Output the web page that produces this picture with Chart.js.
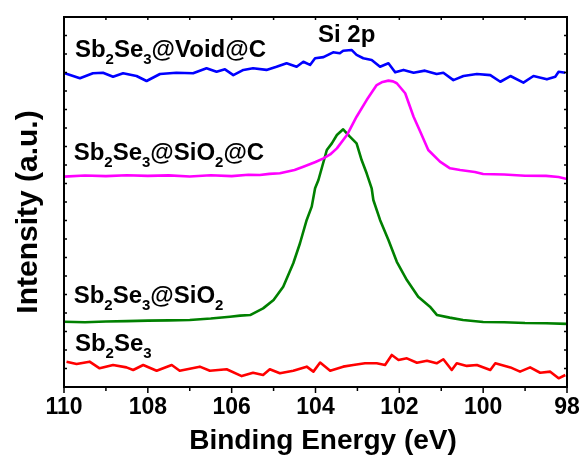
<!DOCTYPE html>
<html><head><meta charset="utf-8">
<script src="https://cdn.jsdelivr.net/npm/chart.js@4"></script>
<style>html,body{margin:0;padding:0;background:#fff}canvas{display:block}</style>
</head><body>
<canvas id="c" width="580" height="460"></canvas>
<script>
const FONT = '"Liberation Sans", Arial, Helvetica, sans-serif';

// ---- data (binding energy in eV, intensity in arbitrary offset units) ----
const voidEnergy = [109.98,109.62,109.31,109.07,108.83,108.59,108.27,108.03,107.71,107.32,106.92,106.60,106.36,106.16,105.96,105.72,105.49,105.17,104.93,104.69,104.45,104.29,104.13,104.01,103.81,103.58,103.42,103.34,103.14,103.02,102.86,102.66,102.46,102.26,102.10,101.90,101.66,101.39,101.11,100.95,100.71,100.47,100.15,99.83,99.59,99.35,99.04,98.80,98.48,98.28,98.20,98.04];
const voidIntensity = [16.96,16.69,16.96,16.99,16.77,16.96,16.81,16.54,16.92,16.99,16.96,17.23,17.04,17.17,16.86,17.14,17.23,17.14,17.31,17.50,17.31,17.58,17.41,17.77,17.83,18.09,18.04,18.18,18.22,17.95,17.77,17.68,17.31,17.50,17.01,17.14,16.99,17.10,16.92,16.99,16.59,16.81,16.92,16.86,16.50,16.81,16.45,16.81,16.63,16.77,17.04,16.99];

const sio2cEnergy = [110,109.5,109,108.5,108,107.5,107,106.5,106,105.6,105.33,105.1,104.85,104.5,104.29,104.0,103.81,103.65,103.49,103.25,103.02,102.78,102.54,102.4,102.26,102.15,102.06,101.86,101.66,101.50,101.31,101.03,100.79,100.55,100.2,100,99.5,99,98.5,98.2,98];
const sio2cIntensity = [11.37,11.43,11.40,11.45,11.41,11.44,11.38,11.45,11.40,11.47,11.46,11.52,11.55,11.73,11.91,12.16,12.36,12.57,12.90,13.62,14.61,15.51,16.32,16.49,16.56,16.52,16.42,15.88,14.61,13.80,12.81,12.18,11.82,11.73,11.62,11.51,11.49,11.42,11.41,11.35,11.24];

const sio2Energy = [110,109.5,109,108.5,108,107.5,107,106.5,106.04,105.8,105.56,105.25,105.0,104.77,104.53,104.37,104.21,104.09,104.01,103.93,103.73,103.61,103.49,103.34,103.18,103.02,102.9,102.78,102.66,102.62,102.46,102.26,102.06,101.82,101.55,101.27,101.1,100.8,100.48,100,99.5,99,98.5,98];
const sio2Intensity = [3.53,3.50,3.54,3.56,3.59,3.60,3.62,3.70,3.80,3.86,3.89,4.25,4.70,5.42,6.69,7.77,9.03,9.75,10.74,11.19,12.81,13.17,13.62,13.93,13.53,13.17,12.27,11.55,10.74,10.11,9.03,7.95,6.77,5.78,4.88,4.34,3.89,3.75,3.62,3.51,3.50,3.46,3.45,3.41];

const bareEnergy = [109.94,109.70,109.39,109.15,108.83,108.51,108.35,108.11,107.79,107.43,107.24,106.76,106.52,106.12,105.76,105.49,105.25,105.09,104.85,104.53,104.21,104.05,103.89,103.65,103.34,103.10,102.82,102.54,102.34,102.18,102.02,101.82,101.58,101.34,101.11,100.95,100.75,100.63,100.39,100.15,99.83,99.71,99.35,99.12,98.88,98.64,98.40,98.20,98.04];
const bareIntensity = [1.37,1.24,1.37,1.01,1.19,1.06,0.92,1.19,0.88,1.19,0.88,1.10,0.88,0.96,0.59,0.77,0.65,0.96,0.74,0.88,1.10,0.83,1.32,0.88,1.10,1.19,1.28,1.28,1.19,1.73,1.46,1.55,1.31,1.42,1.28,1.50,0.92,1.28,1.14,1.19,0.92,1.28,1.06,0.83,1.06,0.77,0.83,0.47,0.65];

const seriesLabels = ['Sb2Se3@Void@C','Sb2Se3@SiO2@C','Sb2Se3@SiO2','Sb2Se3'];
const xTickValues = [110,108,106,104,102,100,98];
const xTitle = 'Binding Energy (eV)';
const yTitle = 'Intensity (a.u.)';
const peakLabel = 'Si 2p';

// annotation anchors (eV, intensity units) for text labels
const textAnchors = [
  {text: seriesLabels[0], x: 109.74, y: 17.85, sub: true},
  {text: peakLabel,       x: 103.94, y: 18.66, sub: false},
  {text: seriesLabels[1], x: 109.77, y: 12.27, sub: true},
  {text: seriesLabels[2], x: 109.77, y: 4.56,  sub: true},
  {text: seriesLabels[3], x: 109.74, y: 1.96,  sub: true}
];

function pts(xs, ys) { return xs.map((x, i) => ({x: x, y: ys[i]})); }

function drawRich(ctx, text, x, y, sub) {
  const big = 'bold 24px ' + FONT, small = 'bold 15px ' + FONT;
  const runs = sub ? text.match(/\d+|[^\d]+/g) : [text];
  let cx = x;
  ctx.textAlign = 'left';
  ctx.textBaseline = 'alphabetic';
  for (const r of runs) {
    const isSub = sub && /^\d+$/.test(r);
    ctx.font = isSub ? small : big;
    ctx.fillText(r, cx, isSub ? y + 7 : y);
    cx += ctx.measureText(r).width;
  }
}

const framePlugin = {
  id: 'frame',
  afterDraw(chart) {
    const {ctx, chartArea: a, scales} = chart;
    const xs = scales.x, ys = scales.y;
    ctx.save();
    ctx.strokeStyle = '#000';
    ctx.lineWidth = 2;
    ctx.strokeRect(a.left, a.top, a.right - a.left, a.bottom - a.top);
    ctx.lineWidth = 1.5;
    ctx.beginPath();
    for (let e = xs.min; e <= xs.max; e += 1) {
      const px = xs.getPixelForValue(e);
      const major = (e % 2 === 0);
      ctx.moveTo(px, a.bottom); ctx.lineTo(px, a.bottom + (major ? 6 : 4));
      ctx.moveTo(px, a.top); ctx.lineTo(px, a.top + 3);
    }
    for (let v = ys.min; v <= ys.max; v += 1) {
      const py = ys.getPixelForValue(v);
      ctx.moveTo(a.left, py); ctx.lineTo(a.left + 3, py);
      ctx.moveTo(a.right, py); ctx.lineTo(a.right - 3, py);
    }
    ctx.stroke();

    ctx.fillStyle = '#000';
    for (const t of textAnchors) {
      drawRich(ctx, t.text, xs.getPixelForValue(t.x), ys.getPixelForValue(t.y), t.sub);
    }

    // axis titles
    ctx.font = 'bold 28px ' + FONT;
    ctx.textAlign = 'center';
    ctx.textBaseline = 'alphabetic';
    ctx.fillText(xTitle, 323, 449);

    ctx.translate(37, 212);
    ctx.rotate(-Math.PI / 2);
    ctx.font = 'bold 30px ' + FONT;
    ctx.fillText(yTitle, 0, 0);
    ctx.restore();
  }
};

const lineStyle = {pointRadius: 0, borderWidth: 2.6, tension: 0, fill: false, borderJoinStyle: 'round'};

new Chart(document.getElementById('c'), {
  type: 'line',
  data: {
    datasets: [
      Object.assign({label: seriesLabels[0], data: pts(voidEnergy, voidIntensity), borderColor: '#0000ff'}, lineStyle),
      Object.assign({label: seriesLabels[1], data: pts(sio2cEnergy, sio2cIntensity), borderColor: '#ff00ff'}, lineStyle),
      Object.assign({label: seriesLabels[2], data: pts(sio2Energy, sio2Intensity), borderColor: '#008000'}, lineStyle),
      Object.assign({label: seriesLabels[3], data: pts(bareEnergy, bareIntensity), borderColor: '#ff0000'}, lineStyle)
    ]
  },
  options: {
    responsive: false,
    animation: false,
    devicePixelRatio: 1,
    layout: {padding: {top: 17, right: 13, left: 0, bottom: 0}},
    plugins: {legend: {display: false}, tooltip: {enabled: false}},
    scales: {
      x: {
        type: 'linear', reverse: true, min: 98, max: 110,
        afterBuildTicks: (s) => { s.ticks = xTickValues.map(v => ({value: v})); },
        afterFit: (s) => { s.height = 73; s.paddingLeft = 0; s.paddingRight = 0; },
        grid: {display: false, drawTicks: false},
        border: {display: false},
        ticks: {color: '#000', font: {family: FONT, size: 23, weight: 'bold'}, padding: 7, maxRotation: 0, autoSkip: false,
                callback: (v) => String(v)}
      },
      y: {
        type: 'linear', min: 0, max: 20,
        afterFit: (s) => { s.width = 64; s.paddingTop = 0; s.paddingBottom = 0; },
        grid: {display: false, drawTicks: false},
        border: {display: false},
        ticks: {display: false}
      }
    }
  },
  plugins: [framePlugin]
});
</script>
</body></html>
